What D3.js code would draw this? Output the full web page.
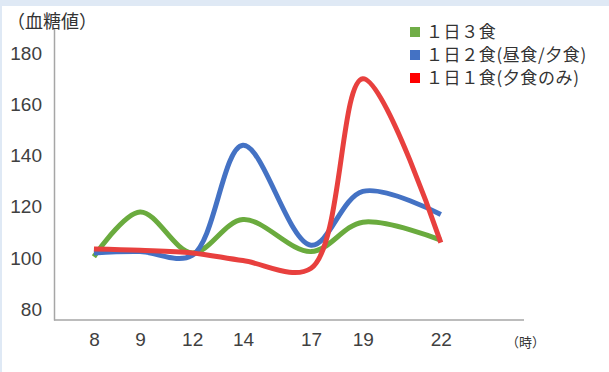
<!DOCTYPE html>
<html>
<head>
<meta charset="utf-8">
<script src="https://cdn.jsdelivr.net/npm/d3@7"></script>
<style>
  body { margin: 0; background: #dfe9f5; }
  svg { display: block; }
</style>
</head>
<body>
<script>
// hours on the x axis and blood sugar readings per series
const hours = [8, 9, 12, 14, 17, 19, 22];
const threeMeals = [100.5, 118, 102, 115, 102.5, 114, 107];
const twoMeals = [102, 102.5, 101, 144, 105, 126, 117];
const oneMeal = [103.5, 103, 102, 99, 96, 170, 106];
const yTicks = [80, 100, 120, 140, 160, 180];
const seriesNames = ['１日３食', '１日２食(昼食/夕食)', '１日１食(夕食のみ)'];

// the hour axis in the original is not evenly spaced
const hourSpots = [0.085, 0.183, 0.294, 0.402, 0.547, 0.657, 0.823];

const width = 609;
const height = 372;
const margin = { top: 28, right: 85, bottom: 52, left: 54 };
const plotW = width - margin.left - margin.right;

const svg = d3.select('body').append('svg')
    .attr('width', width)
    .attr('height', height);

// white card on the pale blue page
svg.append('rect')
    .attr('x', 2)
    .attr('y', 6)
    .attr('width', width - 2)
    .attr('height', height - 6)
    .attr('fill', '#fff');

const x = d3.scaleLinear()
    .domain(hours)
    .range(hourSpots.map(f => margin.left + f * plotW));

const y = d3.scaleLinear()
    .domain([75.8, 189.8])
    .range([height - margin.bottom, margin.top]);

const font = '"Liberation Sans", Arial, sans-serif';
const cjk = '"Noto Sans CJK JP", sans-serif';

// y axis
const yAxis = svg.append('g')
    .attr('transform', `translate(${margin.left},0)`)
    .call(d3.axisLeft(y).tickValues(yTicks).tickSize(0).tickPadding(12));
yAxis.select('.domain').attr('stroke', '#a6a6a6').attr('stroke-width', 1.5);
yAxis.selectAll('text')
    .attr('font-family', font)
    .attr('font-size', 19)
    .attr('fill', '#404040');

// x axis
const xAxis = svg.append('g')
    .attr('transform', `translate(0,${height - margin.bottom})`)
    .call(d3.axisBottom(x).tickValues(hours).tickSize(0).tickPadding(13).tickFormat(d3.format('d')));
xAxis.select('.domain')
    .attr('d', `M${margin.left},0H${width - margin.right}`)
    .attr('stroke', '#a6a6a6')
    .attr('stroke-width', 1.5);
xAxis.selectAll('text')
    .attr('font-family', font)
    .attr('font-size', 19)
    .attr('fill', '#404040');

svg.append('text')
    .attr('x', 7)
    .attr('y', 22)
    .attr('dy', '0.35em')
    .attr('font-family', cjk)
    .attr('font-size', 18)
    .attr('fill', '#333')
    .text('（血糖値）');

svg.append('text')
    .attr('x', 506)
    .attr('y', 342)
    .attr('dy', '0.35em')
    .attr('font-family', cjk)
    .attr('font-size', 13)
    .attr('fill', '#333')
    .text('（時）');

// lines
const lineColors = ['#6aab3e', '#4472c4', '#e8403e'];
const allSeries = [threeMeals, twoMeals, oneMeal];

const line = d3.line()
    .x((d, i) => x(hours[i]))
    .y(d => y(d))
    .curve(d3.curveCatmullRom.alpha(0.5));

svg.append('g')
    .selectAll('path')
    .data(allSeries)
    .join('path')
    .attr('d', line)
    .attr('fill', 'none')
    .attr('stroke', (d, i) => lineColors[i])
    .attr('stroke-width', 5);

// legend
const legendColors = ['#70ad47', '#4472c4', '#ff0000'];
const legend = svg.append('g')
    .attr('transform', 'translate(410,32)')
    .selectAll('g')
    .data(seriesNames)
    .join('g')
    .attr('transform', (d, i) => `translate(0,${i * 23})`);

legend.append('rect')
    .attr('x', 0)
    .attr('y', -5)
    .attr('width', 10)
    .attr('height', 10)
    .attr('fill', (d, i) => legendColors[i]);

legend.append('text')
    .attr('x', 16)
    .attr('dy', '0.35em')
    .attr('font-family', cjk)
    .attr('font-size', 17)
    .attr('letter-spacing', 0.6)
    .attr('fill', '#333')
    .text(d => d);
</script>
</body>
</html>
